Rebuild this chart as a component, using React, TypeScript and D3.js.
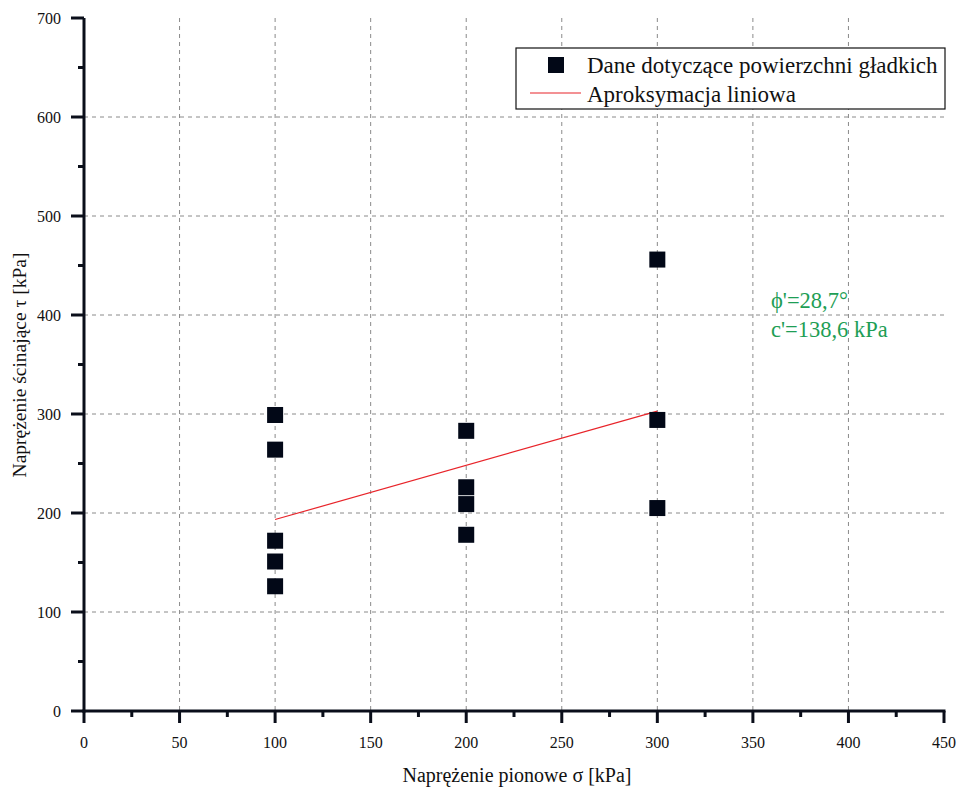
import React from "react";
import * as d3 from "d3";

const xValues = [100, 100, 100, 100, 100, 200, 200, 200, 200, 300, 300, 300];
const yValues = [299, 264, 172, 151, 126, 283, 226, 209, 178, 456, 294, 205];
const fitX = [100, 300];
const fitY = [193.4, 302.9];
const xTicks = [0, 50, 100, 150, 200, 250, 300, 350, 400, 450];
const yTicks = [0, 100, 200, 300, 400, 500, 600, 700];
const legendLabels = ["Dane dotyczące powierzchni gładkich", "Aproksymacja liniowa"];
const annotation = ["ϕ'=28,7°", "c'=138,6 kPa"];

const W = 957, H = 787;
const font = "'Liberation Serif', 'Times New Roman', serif";

export default function App() {
  const x = d3.scaleLinear().domain([0, 450]).range([84, 944]);
  const y = d3.scaleLinear().domain([0, 700]).range([711, 18]);
  const minorX = d3.range(25, 450, 50);
  const minorY = d3.range(50, 700, 100);
  const line = d3.line<number>().x((_, i) => x(fitX[i])).y((d) => y(d));
  const sq = 16;
  return (
    <svg width={W} height={H} style={{ position: "absolute", left: 0, top: 0, background: "#fff" }} fontFamily={font}>
      {/* grid */}
      {xTicks.filter((t) => t > 0 && t < 450).map((t) => (
        <line key={"gx" + t} x1={x(t)} x2={x(t)} y1={y(700)} y2={y(0)} stroke="#8a8a8a" strokeWidth={1} strokeDasharray="4,4" />
      ))}
      {yTicks.filter((t) => t > 0 && t < 700).map((t) => (
        <line key={"gy" + t} x1={x(0)} x2={x(450)} y1={y(t)} y2={y(t)} stroke="#8a8a8a" strokeWidth={1} strokeDasharray="4,4" />
      ))}
      {/* fit line */}
      <path d={line(fitY) || ""} fill="none" stroke="#e8242a" strokeWidth={1.2} />
      {/* points */}
      {xValues.map((v, i) => (
        <rect key={"p" + i} x={x(v) - sq / 2} y={y(yValues[i]) - sq / 2} width={sq} height={sq} fill="#020817" />
      ))}
      {/* axes */}
      <line x1={x(0)} x2={x(0)} y1={y(700)} y2={y(0) + 1.5} stroke="#0a0e1a" strokeWidth={3} />
      <line x1={x(0) - 1.5} x2={x(450) + 1.5} y1={y(0)} y2={y(0)} stroke="#0a0e1a" strokeWidth={3} />
      {xTicks.map((t) => (
        <g key={"xt" + t}>
          <line x1={x(t)} x2={x(t)} y1={y(0)} y2={y(0) + 12} stroke="#0a0e1a" strokeWidth={3} />
          <text x={x(t)} y={748} textAnchor="middle" fontSize={16} fill="#111">{t}</text>
        </g>
      ))}
      {minorX.map((t) => (
        <line key={"mx" + t} x1={x(t)} x2={x(t)} y1={y(0)} y2={y(0) + 6} stroke="#0a0e1a" strokeWidth={3} />
      ))}
      {yTicks.map((t) => (
        <g key={"yt" + t}>
          <line x1={x(0) - 13} x2={x(0)} y1={y(t)} y2={y(t)} stroke="#0a0e1a" strokeWidth={3} />
          <text x={61} y={y(t) + 5.5} textAnchor="end" fontSize={16} fill="#111">{t}</text>
        </g>
      ))}
      {minorY.map((t) => (
        <line key={"my" + t} x1={x(0) - 6} x2={x(0)} y1={y(t)} y2={y(t)} stroke="#0a0e1a" strokeWidth={3} />
      ))}
      {/* titles */}
      <text x={517} y={782} textAnchor="middle" fontSize={20} fill="#111">Naprężenie pionowe σ [kPa]</text>
      <text transform={`translate(26,365) rotate(-90)`} textAnchor="middle" fontSize={19.5} fill="#111">Naprężenie ścinające τ [kPa]</text>
      {/* legend */}
      <rect x={516} y={48} width={429} height={61} fill="#fff" stroke="#111" strokeWidth={1.2} />
      <rect x={548} y={57} width={16} height={16} fill="#020817" />
      <text x={587} y={72.5} fontSize={23} fill="#111">{legendLabels[0]}</text>
      <line x1={530} x2={581} y1={93} y2={93} stroke="#e8242a" strokeWidth={1.2} />
      <text x={587} y={101.5} fontSize={23} fill="#111">{legendLabels[1]}</text>
      {/* annotation */}
      <text x={771} y={308} fontSize={22.5} fill="#1e9e55">{annotation[0]}</text>
      <text x={771} y={337} fontSize={22.5} fill="#1e9e55">{annotation[1]}</text>
    </svg>
  );
}
